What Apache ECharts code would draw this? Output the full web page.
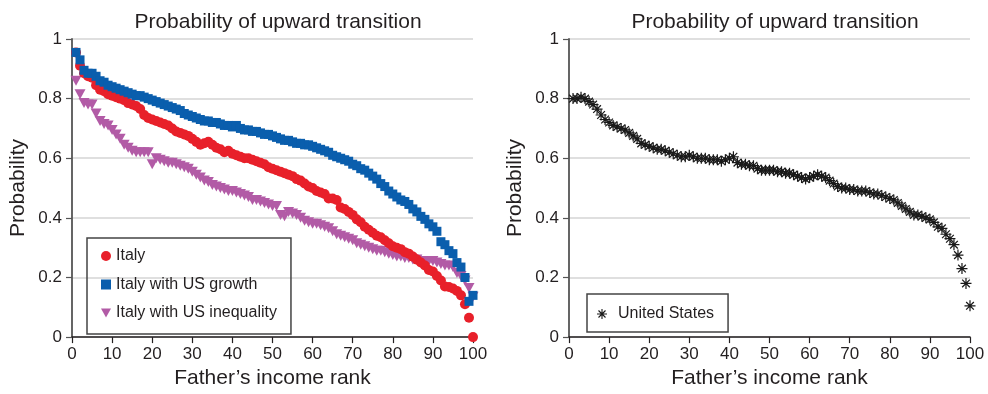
<!DOCTYPE html>
<html>

<head>
    <meta charset="utf-8">
    <title>Probability of upward transition</title>
    <script src="https://cdn.jsdelivr.net/npm/echarts@6/dist/echarts.min.js"></script>
</head>

<body style="margin:0">
    <div id="main" style="width: 988px;height:394px;"></div>
    <script type="text/javascript">
        // father's income rank 1..100
        var ranks = [];
        for (var r = 1; r <= 100; r++) ranks.push(r);

        var italy = [
            0.955, 0.91, 0.885, 0.875, 0.87, 0.845, 0.83, 0.825, 0.815, 0.81,
            0.805, 0.80, 0.795, 0.785, 0.78, 0.775, 0.765, 0.745, 0.735, 0.73,
            0.725, 0.72, 0.715, 0.71, 0.70, 0.69, 0.685, 0.68, 0.675, 0.665,
            0.655, 0.645, 0.65, 0.655, 0.645, 0.635, 0.63, 0.62, 0.625, 0.615,
            0.61, 0.605, 0.60, 0.60, 0.595, 0.59, 0.585, 0.58, 0.57, 0.565,
            0.56, 0.555, 0.55, 0.545, 0.54, 0.53, 0.525, 0.515, 0.505, 0.50,
            0.49, 0.485, 0.48, 0.465, 0.465, 0.46, 0.435, 0.43, 0.42, 0.41,
            0.395, 0.385, 0.37, 0.36, 0.35, 0.34, 0.335, 0.325, 0.315, 0.305,
            0.30, 0.295, 0.285, 0.28, 0.27, 0.26, 0.25, 0.24, 0.225, 0.22,
            0.205, 0.19, 0.17, 0.168, 0.163, 0.155, 0.14, 0.11, 0.065, 0.0
        ];

        var italyUSGrowth = [
            0.955, 0.93, 0.895, 0.885, 0.885, 0.875, 0.86, 0.855, 0.845, 0.84,
            0.835, 0.83, 0.825, 0.82, 0.815, 0.81, 0.81, 0.805, 0.80, 0.795,
            0.79, 0.785, 0.78, 0.775, 0.77, 0.765, 0.76, 0.75, 0.745, 0.74,
            0.735, 0.73, 0.725, 0.725, 0.72, 0.72, 0.715, 0.71, 0.71, 0.705,
            0.71, 0.70, 0.695, 0.695, 0.69, 0.69, 0.685, 0.68, 0.68, 0.675,
            0.67, 0.665, 0.66, 0.66, 0.655, 0.65, 0.65, 0.645, 0.645, 0.64,
            0.635, 0.63, 0.625, 0.62, 0.61, 0.605, 0.60, 0.595, 0.59, 0.58,
            0.575, 0.565, 0.56, 0.55, 0.54, 0.53, 0.515, 0.505, 0.49, 0.48,
            0.47, 0.46, 0.455, 0.445, 0.43, 0.42, 0.405, 0.395, 0.38, 0.37,
            0.355, 0.32, 0.31, 0.29, 0.28, 0.25, 0.235, 0.20, 0.12, 0.14
        ];

        var italyUSInequality = [
            0.86, 0.815, 0.785, 0.78, 0.78, 0.75, 0.725, 0.715, 0.71, 0.695,
            0.68, 0.665, 0.645, 0.635, 0.625, 0.62, 0.62, 0.62, 0.62, 0.58,
            0.60, 0.595, 0.59, 0.585, 0.585, 0.58, 0.575, 0.57, 0.565, 0.555,
            0.545, 0.535, 0.525, 0.52, 0.51, 0.505, 0.50, 0.495, 0.49, 0.49,
            0.485, 0.48, 0.475, 0.47, 0.46, 0.46, 0.455, 0.45, 0.445, 0.44,
            0.44, 0.41, 0.405, 0.42, 0.415, 0.41, 0.40, 0.39, 0.385, 0.38,
            0.38, 0.375, 0.37, 0.365, 0.355, 0.345, 0.34, 0.335, 0.33, 0.325,
            0.315, 0.31, 0.305, 0.30, 0.295, 0.29, 0.29, 0.285, 0.28, 0.275,
            0.27, 0.27, 0.265, 0.265, 0.26, 0.26, 0.255, 0.255, 0.255, 0.255,
            0.25, 0.245, 0.24, 0.24, 0.235, 0.215, 0.205, 0.19, 0.165, 0.135
        ];

        var unitedStates = [
            0.80, 0.80, 0.805, 0.80, 0.79, 0.78, 0.765, 0.745, 0.73, 0.72,
            0.71, 0.705, 0.70, 0.695, 0.685, 0.675, 0.665, 0.65, 0.645, 0.64,
            0.635, 0.63, 0.63, 0.625, 0.62, 0.615, 0.61, 0.605, 0.605, 0.61,
            0.605, 0.60, 0.60, 0.60, 0.595, 0.595, 0.595, 0.59, 0.595, 0.60,
            0.605, 0.585, 0.58, 0.58, 0.575, 0.575, 0.565, 0.56, 0.56, 0.56,
            0.56, 0.555, 0.555, 0.55, 0.55, 0.545, 0.54, 0.535, 0.53, 0.535,
            0.54, 0.545, 0.54, 0.535, 0.525, 0.515, 0.505, 0.50, 0.50, 0.495,
            0.495, 0.49, 0.49, 0.49, 0.485, 0.48, 0.48, 0.475, 0.47, 0.465,
            0.46, 0.45, 0.44, 0.43, 0.42, 0.41, 0.41, 0.405, 0.40, 0.395,
            0.385, 0.37, 0.365, 0.345, 0.33, 0.31, 0.275, 0.23, 0.18, 0.105
        ];

        var xTicks = [0, 10, 20, 30, 40, 50, 60, 70, 80, 90, 100];
        var yTicks = [0, 0.2, 0.4, 0.6, 0.8, 1];

        function pairs(values) {
            return values.map(function (v, i) { return [ranks[i], v]; });
        }

        var FONT = '"Liberation Sans", Arial, Helvetica, sans-serif';
        var TXT = '#231f20';
        var asterisk = 'path://M8.9,0H11.1V20H8.9Z M0,8.9H20V11.1H0Z ' +
            'M2.2,3.8L3.8,2.2L17.8,16.2L16.2,17.8Z M16.2,2.2L17.8,3.8L3.8,17.8L2.2,16.2Z';
        var downTriangle = 'path://M0,0L10,0L5,9Z';

        var dom = document.getElementById("main");
        var myChart = echarts.init(dom);

        function xAxis(gridIndex) {
            return {
                type: 'value',
                gridIndex: gridIndex,
                min: xTicks[0],
                max: xTicks[xTicks.length - 1],
                interval: 10,
                name: 'Father’s income rank',
                nameLocation: 'middle',
                nameGap: 29,
                nameTextStyle: { fontFamily: FONT, fontSize: 21, color: TXT },
                axisLine: { onZero: false, lineStyle: { color: '#231f20', width: 1.5 } },
                axisTick: { length: 6, lineStyle: { color: '#231f20', width: 1.2 } },
                axisLabel: { fontFamily: FONT, fontSize: 17, color: TXT, margin: 9 },
                splitLine: { show: false }
            };
        }

        function yAxis(gridIndex) {
            return {
                type: 'value',
                gridIndex: gridIndex,
                min: yTicks[0],
                max: yTicks[yTicks.length - 1],
                interval: 0.2,
                name: 'Probability',
                nameLocation: 'middle',
                nameGap: 43,
                nameRotate: 90,
                nameTextStyle: { fontFamily: FONT, fontSize: 21, color: TXT },
                axisLine: { show: true, lineStyle: { color: '#555', width: 1.8 } },
                axisTick: { show: true, length: 6, lineStyle: { color: '#555', width: 1.2 } },
                axisLabel: { fontFamily: FONT, fontSize: 17, color: TXT, margin: 10 },
                splitLine: { show: true, lineStyle: { color: '#d4d4d4', width: 1.5 } }
            };
        }

        var option = {
            animation: false,
            backgroundColor: '#fff',
            title: [{
                text: 'Probability of upward transition',
                left: 273, top: 7, textAlign: 'center',
                textStyle: { fontFamily: FONT, fontSize: 21, fontWeight: 'normal', color: TXT }
            }, {
                text: 'Probability of upward transition',
                left: 770, top: 7, textAlign: 'center',
                textStyle: { fontFamily: FONT, fontSize: 21, fontWeight: 'normal', color: TXT }
            }],
            legend: [{
                orient: 'vertical',
                left: 87, top: 238,
                padding: [10, 14, 13, 14],
                itemWidth: 10, itemHeight: 10,
                itemGap: 12.5,
                borderColor: '#444', borderWidth: 1.5,
                textStyle: { fontFamily: FONT, fontSize: 16, color: TXT, lineHeight: 14 },
                data: [
                    'Italy',
                    'Italy with US growth',
                    { name: 'Italy with US inequality', icon: downTriangle }
                ]
            }, {
                orient: 'vertical',
                left: 587, top: 294,
                padding: [12, 14, 10, 10],
                itemWidth: 10, itemHeight: 10,
                borderColor: '#444', borderWidth: 1.5,
                textStyle: { fontFamily: FONT, fontSize: 16, color: TXT, lineHeight: 14, padding: [0, 0, 0, 6] },
                data: ['United States']
            }],
            grid: [
                { left: 72, top: 39, width: 401, height: 304 },
                { left: 569, top: 39, width: 401, height: 304 }
            ],
            xAxis: [xAxis(0), xAxis(1)],
            yAxis: [yAxis(0), yAxis(1)],
            series: [{
                name: 'Italy',
                type: 'scatter',
                xAxisIndex: 0, yAxisIndex: 0,
                symbol: 'circle', symbolSize: 10,
                itemStyle: { color: '#e8202a', opacity: 1 },
                z: 3,
                data: pairs(italy)
            }, {
                name: 'Italy with US growth',
                type: 'scatter',
                xAxisIndex: 0, yAxisIndex: 0,
                symbol: 'rect', symbolSize: 9,
                itemStyle: { color: '#0a5ead', opacity: 1 },
                z: 4,
                data: pairs(italyUSGrowth)
            }, {
                name: 'Italy with US inequality',
                type: 'scatter',
                xAxisIndex: 0, yAxisIndex: 0,
                symbol: 'triangle', symbolSize: [11, 10], symbolRotate: 180,
                itemStyle: { color: '#b25ba6', opacity: 1 },
                z: 2,
                data: pairs(italyUSInequality)
            }, {
                name: 'United States',
                type: 'scatter',
                xAxisIndex: 1, yAxisIndex: 1,
                symbol: asterisk, symbolSize: 11,
                itemStyle: { color: '#1a1a1a', opacity: 1 },
                data: pairs(unitedStates)
            }]
        };

        if (option && typeof option === "object") {
            myChart.setOption(option, true);
        }
    </script>
</body>

</html>
